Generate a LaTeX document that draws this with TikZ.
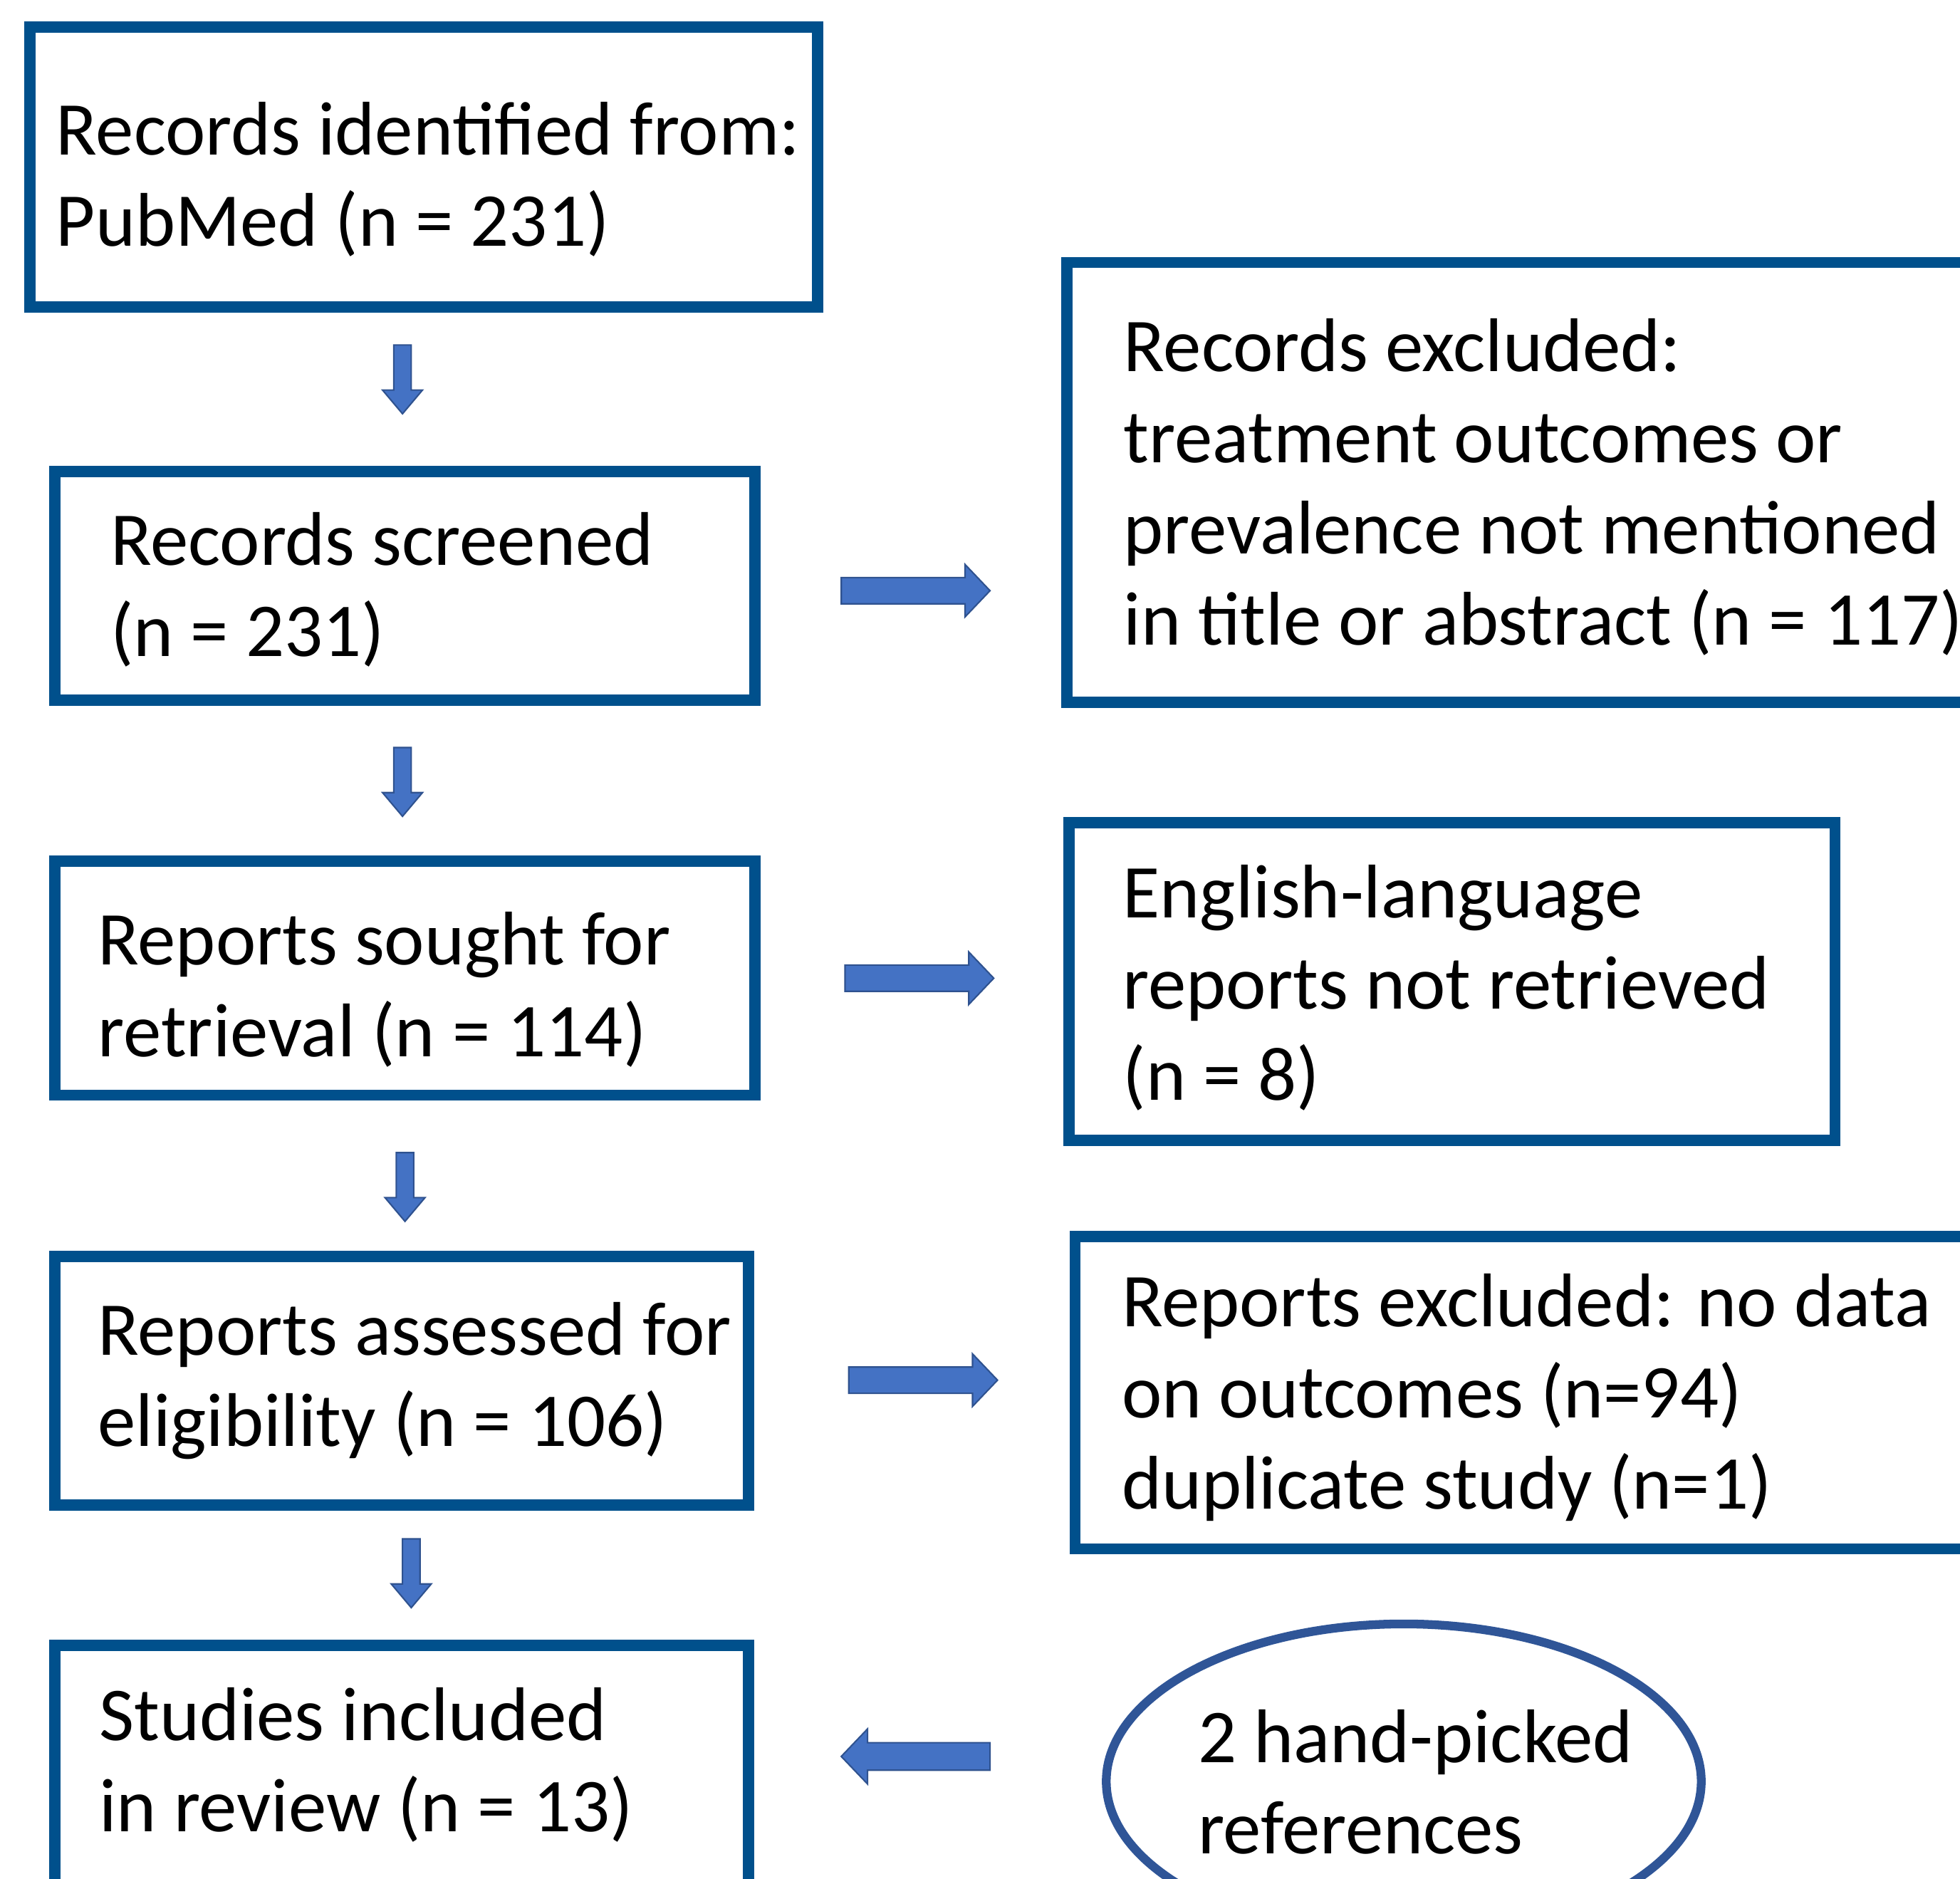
\documentclass[tikz,border=0pt]{standalone}
\usepackage{fontspec}
\setmainfont{Carlito}
\usetikzlibrary{shapes.geometric}
\definecolor{boxblue}{RGB}{0,80,140}
\definecolor{ovalblue}{RGB}{47,85,151}
\definecolor{arrowfill}{RGB}{68,114,196}
\definecolor{arrowline}{RGB}{47,82,143}
\newcommand{\pxl}{0.0175cm}
\tikzset{
    flowbox/.style={draw=boxblue, line width=9*\pxl, rectangle, inner sep=0pt},
    flowtext/.style={anchor=base west, align=left, inner sep=0pt, font=\fontsize{30.3}{36.35}\selectfont},
    arrowbody/.style={fill=arrowfill, draw=arrowline, line width=1.2*\pxl, line join=miter},
    downarrow/.pic={\draw[arrowbody] (-7,0) -- (-7,36) -- (-16,36) -- (0,55) -- (16,36) -- (7,36) -- (7,0) -- cycle;},
    rightarrow/.pic={\draw[arrowbody] (0,-10.5) -- (99,-10.5) -- (99,-21) -- (119,0) -- (99,21) -- (99,10.5) -- (0,10.5) -- cycle;},
    leftarrow/.pic={\draw[arrowbody] (119,-11) -- (21,-11) -- (21,-22) -- (0,0) -- (21,22) -- (21,11) -- (119,11) -- cycle;}
}
\begin{document}
\begin{tikzpicture}[x=\pxl, y=-\pxl]
    \useasboundingbox (0,0) rectangle (1568,1503);
    \clip (0,0) rectangle (1568,1503);

    \node at (339,133.5) [flowbox, minimum width=630*\pxl, minimum height=224*\pxl] (identified) {};
    \node at (324,468.5) [flowbox, minimum width=560*\pxl, minimum height=183*\pxl] (screened) {};
    \node at (324,782.5) [flowbox, minimum width=560*\pxl, minimum height=187*\pxl] (sought) {};
    \node at (321.5,1104.5) [flowbox, minimum width=555*\pxl, minimum height=199*\pxl] (assessed) {};
    \node at (321.5,1440) [flowbox, minimum width=555*\pxl, minimum height=248*\pxl] (included) {};
    \node at (1229.5,386) [flowbox, minimum width=752*\pxl, minimum height=352*\pxl] (excluded) {};
    \node at (1161.5,785) [flowbox, minimum width=613*\pxl, minimum height=254*\pxl] (notretrieved) {};
    \node at (1233,1114) [flowbox, minimum width=746*\pxl, minimum height=250*\pxl] (nodata) {};
    \node at (1123,1425) [ellipse, draw=ovalblue, line width=7*\pxl, inner sep=0pt,
        minimum width=476*\pxl, minimum height=252*\pxl] (handpicked) {};

    \node at (44.5,197) [flowtext] (identifiedtext) {Records identified from:\\PubMed (n = 231)};
    \node at (88,525) [flowtext] (screenedtext) {Records screened\\(n = 231)};
    \node at (78,845) [flowtext] (soughttext) {Reports sought for\\retrieval (n = 114)};
    \node at (78,1157) [flowtext] (assessedtext) {Reports assessed for\\eligibility (n = 106)};
    \node at (79,1465) [flowtext] (includedtext) {Studies included\\in review (n = 13)};
    \node at (898.5,516) [flowtext] (excludedtext) {Records excluded:\\treatment outcomes or\\prevalence not mentioned\\in title or abstract (n = 117)};
    \node at (898,880) [flowtext] (notretrievedtext) {English-language\\reports not retrieved\\(n = 8)};
    \node at (897,1207) [flowtext] (nodatatext) {Reports excluded: no data\\on outcomes (n=94)\\duplicate study (n=1)};
    \node at (958,1483) [flowtext] (handpickedtext) {2 hand-picked\\references};

    \pic (down1) at (322,276) {downarrow};
    \pic (down2) at (322,598) {downarrow};
    \pic (down3) at (324,922) {downarrow};
    \pic (down4) at (329,1231) {downarrow};
    \pic (right1) at (673,472.5) {rightarrow};
    \pic (right2) at (676,782.5) {rightarrow};
    \pic (right3) at (679,1104) {rightarrow};
    \pic (left1) at (673,1405) {leftarrow};
\end{tikzpicture}
\end{document}
